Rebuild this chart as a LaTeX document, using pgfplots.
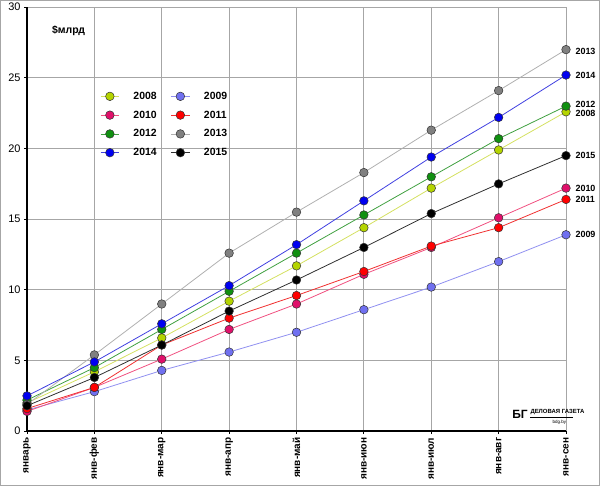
\documentclass[border=0pt]{standalone}
\usepackage{pgfplots}
\pgfplotsset{compat=1.18}
\usepackage{fontspec}
\setmainfont{Liberation Sans}
\definecolor{c08}{HTML}{B4D400}\definecolor{l08}{HTML}{D4E060}
\definecolor{c09}{HTML}{7070F0}\definecolor{l09}{HTML}{9090F0}
\definecolor{c10}{HTML}{E0106A}\definecolor{l10}{HTML}{F05080}
\definecolor{c11}{HTML}{FF0000}\definecolor{l11}{HTML}{F03030}
\definecolor{c12}{HTML}{109010}\definecolor{l12}{HTML}{40A040}
\definecolor{c13}{HTML}{808080}\definecolor{l13}{HTML}{B0B0B0}
\definecolor{c14}{HTML}{0000F0}\definecolor{l14}{HTML}{4040E0}
\definecolor{c15}{HTML}{000000}\definecolor{l15}{HTML}{303030}
\begin{document}
\begin{tikzpicture}[x=1bp,y=1bp]
\draw[gray!70,line width=1bp] (-26.5,-54.5) rectangle (572.5,430.5);
\begin{axis}[scale only axis, width=539bp, height=424bp, at={(0,0)},
 xmin=0, xmax=8, ymin=0, ymax=30,
 xtick={0,...,8}, xticklabels={январь,янв-фев,янв-мар,янв-апр,янв-май,янв-июн,янв-июл,янв-авг,янв-сен},
 xticklabel style={rotate=90, anchor=east, font=\fontsize{10}{10}\selectfont\bfseries},
 ytick={0,5,...,30}, yticklabel style={font=\fontsize{11}{11}\selectfont},
 /pgf/number format/assume math mode=true,
 grid=major, grid style={gray!70, line width=0.8bp},
 axis x line*=bottom, axis y line*=left, axis line style={line width=1.6bp, -},
 tick style={black, line width=1bp}, tick align=outside, major tick length=3bp,
 clip=false,
 every axis plot/.append style={line width=0.8bp, mark=*, mark size=4.3bp},
 legend style={at={(rel axis cs:0.13,0.81)}, anchor=north west, draw=none, fill=none,
   font=\fontsize{10.5}{11}\selectfont\bfseries, row sep=6bp, column sep=12bp, legend cell align=left,
   nodes={inner xsep=2bp}},
 legend columns=2,
 legend image code/.code={\draw[#1,mark=none] (0cm,0cm) -- (0.65cm,0cm); \draw[#1] plot coordinates {(0.325cm,0cm)};},
]
\addplot[l08, mark options={fill=c08,draw=black!80,line width=0.5bp}] coordinates {(0,2.0)(1,4.2)(2,6.6)(3,9.2)(4,11.7)(5,14.4)(6,17.2)(7,19.9)(8,22.6)};
\addlegendentry{2008}
\addplot[l09, mark options={fill=c09,draw=black!80,line width=0.5bp}] coordinates {(0,1.5)(1,2.8)(2,4.3)(3,5.6)(4,7.0)(5,8.6)(6,10.2)(7,12.0)(8,13.9)};
\addlegendentry{2009}
\addplot[l10, mark options={fill=c10,draw=black!80,line width=0.5bp}] coordinates {(0,1.4)(1,3.1)(2,5.1)(3,7.2)(4,9.0)(5,11.1)(6,13.0)(7,15.1)(8,17.2)};
\addlegendentry{2010}
\addplot[l11, mark options={fill=c11,draw=black!80,line width=0.5bp}] coordinates {(0,1.6)(1,3.1)(2,6.1)(3,8.0)(4,9.6)(5,11.3)(6,13.1)(7,14.4)(8,16.4)};
\addlegendentry{2011}
\addplot[l12, mark options={fill=c12,draw=black!80,line width=0.5bp}] coordinates {(0,2.2)(1,4.5)(2,7.2)(3,9.9)(4,12.6)(5,15.3)(6,18.0)(7,20.7)(8,23.0)};
\addlegendentry{2012}
\addplot[l13, mark options={fill=c13,draw=black!80,line width=0.5bp}] coordinates {(0,1.9)(1,5.4)(2,9.0)(3,12.6)(4,15.5)(5,18.3)(6,21.3)(7,24.1)(8,27.0)};
\addlegendentry{2013}
\addplot[l14, mark options={fill=c14,draw=black!80,line width=0.5bp}] coordinates {(0,2.5)(1,4.9)(2,7.6)(3,10.3)(4,13.2)(5,16.3)(6,19.4)(7,22.2)(8,25.2)};
\addlegendentry{2014}
\addplot[l15, mark options={fill=c15,draw=black!80,line width=0.5bp}] coordinates {(0,1.8)(1,3.8)(2,6.1)(3,8.5)(4,10.7)(5,13.0)(6,15.4)(7,17.5)(8,19.5)};
\addlegendentry{2015}
\begin{scope}[font=\fontsize{9}{9}\selectfont\bfseries, anchor=west]
\node at (axis cs:8,27.0) [xshift=6bp,yshift=-2bp] {2013};
\node at (axis cs:8,25.2) [xshift=6bp] {2014};
\node at (axis cs:8,23.0) [xshift=6bp,yshift=2bp] {2012};
\node at (axis cs:8,22.6) [xshift=6bp,yshift=-1.5bp] {2008};
\node at (axis cs:8,19.5) [xshift=6bp] {2015};
\node at (axis cs:8,17.2) [xshift=6bp] {2010};
\node at (axis cs:8,16.4) [xshift=6bp] {2011};
\node at (axis cs:8,13.9) [xshift=6bp] {2009};
\end{scope}
\node[anchor=west, font=\fontsize{10.5}{11}\selectfont\bfseries] at (rel axis cs:0.04,0.945) {\$млрд};
\node[anchor=east, font=\fontsize{12}{12}\selectfont\bfseries, inner sep=1bp] at (axis cs:7.45,1.2) {БГ};
\node[anchor=west, font=\fontsize{6}{6}\selectfont\bfseries, inner sep=0pt] at (axis cs:7.47,1.35) {ДЕЛОВАЯ ГАЗЕТА};
\draw[black, line width=0.4bp] (axis cs:7.47,1.0) -- (axis cs:8.1,1.0);
\node[font=\fontsize{4.5}{4.5}\selectfont, inner sep=0pt] at (axis cs:7.9,0.6) {bdg.by};
\end{axis}
\end{tikzpicture}
\end{document}
